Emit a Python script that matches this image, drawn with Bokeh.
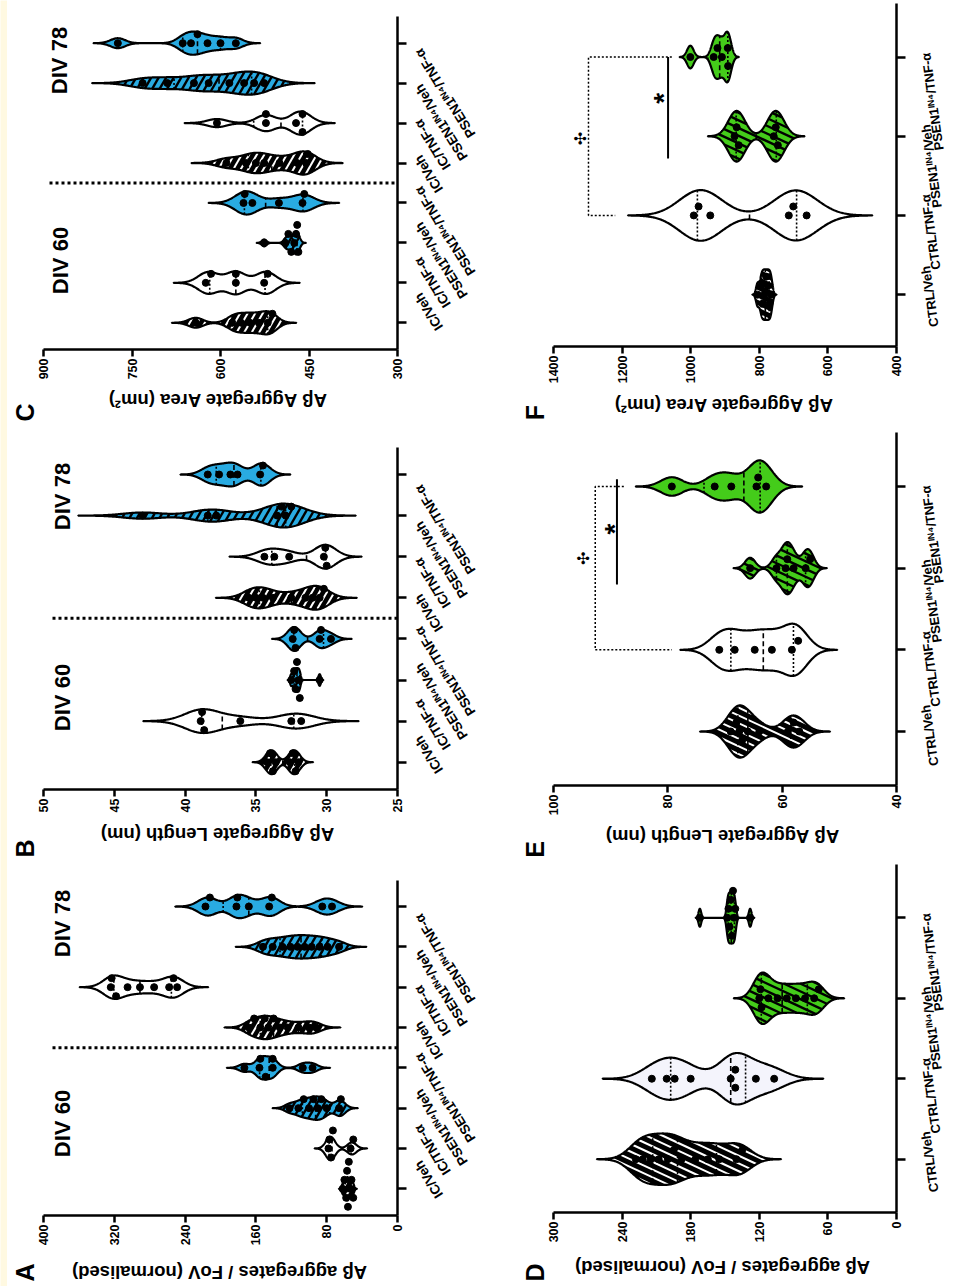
import numpy as np
from bokeh.plotting import figure
from bokeh.models import Range1d, FixedTicker, LinearAxis
from bokeh.core.properties import value
from bokeh.layouts import column, row
from bokeh.embed import file_html
from bokeh.resources import INLINE

# ---------------- data ----------------
cats_ABC = ["IC/Veh", "IC/TNF-α", "PSEN1ᴵᴺ⁴/Veh", "PSEN1ᴵᴺ⁴/TNF-α",
            "IC/Veh", "IC/TNF-α", "PSEN1ᴵᴺ⁴/Veh", "PSEN1ᴵᴺ⁴/TNF-α"]
cats_DEF = ["CTRL/Veh", "CTRL/TNF-α", "PSEN1ᴵᴺ⁴/Veh", "PSEN1ᴵᴺ⁴/TNF-α"]
div_labels = ["DIV 60", "DIV 78"]

A_ticks = [0, 80, 160, 240, 320, 400]
B_ticks = [25, 30, 35, 40, 45, 50]
C_ticks = [300, 450, 600, 750, 900]
D_ticks = [0, 60, 120, 180, 240, 300]
E_ticks = [40, 60, 80, 100]
F_ticks = [400, 600, 800, 1000, 1200, 1400]

A_title = "Aβ aggregates / FoV (normalised)"
B_title = "Aβ Aggregate Length (nm)"
C_title = "Aβ Aggregate Area (nm²)"

# Panel A: aggregates / FoV, DIV60 (groups 1-4) and DIV78 (groups 5-8)
A_groups = [
    [62, 60, 58, 57, 56, 55, 53, 52, 50],
    [78, 77, 75, 73, 53, 50],
    [122, 112, 106, 100, 95, 90, 86, 80, 66, 64],
    [173, 156, 155, 149, 141, 141, 107, 96],
    [168, 162, 155, 150, 146, 140, 133, 124, 112, 100, 92],
    [324, 323, 318, 305, 291, 275, 258, 253, 249],
    [152, 141, 130, 121, 113, 105, 97, 88, 79, 66],
    [217, 212, 182, 181, 168, 145, 142, 85, 74],
]
# Panel B: aggregate length (nm)
B_groups = [
    [34.2, 34.0, 33.8, 33.6, 32.6, 32.4, 32.2, 32.0],
    [38.9, 38.8, 38.65, 36.1, 32.5, 31.8],
    [32.5, 32.3, 32.2, 32.1, 32.0, 31.9, 30.5],
    [32.4, 32.3, 32.2, 30.5, 30.4, 29.7],
    [35.5, 35.0, 34.5, 33.8, 32.5, 31.5, 31.0, 30.5, 30.2],
    [34.4, 33.7, 32.65, 30.2, 30.1, 30.0],
    [43.0, 38.4, 37.8, 33.5, 33.2, 32.9, 32.5],
    [38.4, 37.6, 36.8, 36.3, 34.7, 34.5],
]
# Panel C: aggregate area (nm^2)
C_groups = [
    [642, 580, 565, 550, 535, 520, 512],
    [625, 616, 574, 574, 526, 520],
    [526, 490, 485, 480, 475, 472, 470, 468],
    [561, 559, 546, 501, 461, 458],
    [590, 557, 540, 526, 500, 470, 455, 452],
    [606, 523, 523, 472, 461, 461],
    [732, 690, 645, 620, 585, 560, 543, 526],
    [774, 664, 650, 639, 622, 600, 574],
]
D_groups = [
    [228, 222, 215, 208, 200, 195, 188, 176, 165, 155, 140, 135],
    [214, 201, 194, 180, 145, 141, 141, 123, 107],
    [120, 119, 118, 112, 104, 96, 88, 80, 72, 68],
    [172, 148, 147, 146, 145, 144, 143, 142, 141, 128],
]
E_groups = [
    [69, 68, 67.5, 67, 66, 64, 59, 58, 57],
    [71, 68.3, 64.8, 61.8, 58.3, 57.2],
    [65.6, 61, 59.4, 59.1, 58, 55.9, 55.1],
    [79.3, 71.8, 68.9, 64.5, 64.2, 62.8],
]
F_groups = [
    [805, 795, 790, 785, 780, 775, 770, 765],
    [991, 977, 943, 714, 701, 662],
    [872, 866, 860, 758, 752, 746],
    [1001, 933, 922, 909, 892, 891],
]

# significance annotations (value, category)
E_sig_solid = ([88.9, 88.9], [4.09, 2.8])
E_sig_dotted = ([87.7, 92.7, 92.7, 79.3], [4.0, 4.0, 2.0, 2.0])
E_star = (90.4, 3.48)
E_club = (95.6, 3.12)
F_sig_solid = ([1066, 1066], [4.0, 2.72])
F_sig_dotted = ([1055, 1298, 1298, 1220], [4.0, 4.0, 2.0, 2.0])
F_star = (1098, 3.48)
F_club = (1337, 2.97)

# ---------------- style ----------------
FONT = "Liberation Sans"
BLUE = "#29abe2"
GREEN = "#44cc1a"
STRIP = "#fff9e1"
STY = {
    "kh": dict(fill="black", hatch="white", hw=2.0),
    "w": dict(fill="white"),
    "l": dict(fill="#f4f4fc"),
    "bh": dict(fill=BLUE, hatch="black", hw=2.4),
    "b": dict(fill=BLUE),
    "gh": dict(fill=GREEN, hatch="black", hw=2.4),
    "g": dict(fill=GREEN),
}
# approximate advance widths (em) of bold sans glyphs, for centring rotated labels
EM = {"I": .278, "C": .722, "/": .278, "V": .667, "e": .556, "h": .611, "T": .611,
      "N": .722, "F": .611, "-": .333, "α": .62, "P": .667, "S": .667, "E": .667,
      "1": .556, "R": .722, "L": .611, "ᴵ": .38, "ᴺ": .50, "⁴": .38}


def text_len(s, size):
    return sum(EM.get(ch, .6) for ch in s) * size


def kde(vals, bw_scale=0.6, ext=3.3, n=300):
    v = np.asarray(vals, float)
    sd = v.std(ddof=1)
    q75, q25 = np.percentile(v, [75, 25])
    iqr = (q75 - q25) / 1.34
    s = min(sd, iqr) if iqr > 0 else sd
    bw = bw_scale * 0.9 * s * len(v) ** (-0.2)
    g = np.linspace(v.min() - ext * bw, v.max() + ext * bw, n)
    d = np.exp(-0.5 * ((g[:, None] - v[None, :]) / bw) ** 2).sum(1)
    return g, d / d.max()


def swarm(vals, sx, sy, step=9.0, dot=7.0):
    v = np.asarray(vals, float)
    order = np.argsort(-v)
    placed = []
    offs = np.zeros(len(v))
    cands = [0] + [s * j for j in range(1, 12) for s in (1, -1)]
    for idx in order:
        xp = v[idx] * sx
        for m in cands:
            yp = m * step
            if all((xp - a) ** 2 + (yp - b) ** 2 >= (dot * 0.95) ** 2 for a, b in placed):
                break
        placed.append((xp, yp))
        offs[idx] = yp / sy
    return offs


def stripes(g, half, c, geo, angle_deg, spacing):
    """Hatch lines clipped to the violin, computed in screen pixels."""
    fl, fr, ft, fb, xl, xr, ylo, yhi = geo
    tx = lambda v: fl + (v - xl) / (xr - xl) * (fr - fl)
    ty = lambda y: ft + (yhi - y) / (yhi - ylo) * (fb - ft)
    iv = lambda X: xl + (X - fl) / (fr - fl) * (xr - xl)
    iy = lambda Y: yhi - (Y - ft) / (fb - ft) * (yhi - ylo)
    X = tx(g)
    hmax = half.max()
    Xs = [X.min(), X.max()]
    Ys = [ty(c + hmax), ty(c - hmax)]
    a = np.deg2rad(angle_deg)
    dv = np.array([np.cos(a), -np.sin(a)])
    nv = np.array([np.sin(a), np.cos(a)])
    corners = np.array([[x, y] for x in Xs for y in Ys])
    ks = corners @ nv
    ts = corners @ dv
    gx = X if X[0] < X[-1] else X[::-1]
    gh = half if X[0] < X[-1] else half[::-1]
    xs_out, ys_out = [], []
    t = np.arange(ts.min() - 2, ts.max() + 2, 0.4)
    for k in np.arange(np.floor(ks.min() / spacing) * spacing, ks.max() + spacing, spacing):
        P = k * nv[None, :] + t[:, None] * dv[None, :]
        px, py = P[:, 0], P[:, 1]
        h = np.interp(px, gx, gh, left=-1, right=-1)
        yc = iy(py)
        inside = np.abs(yc - c) <= h
        if not inside.any():
            continue
        idx = np.flatnonzero(np.diff(np.concatenate([[0], inside.astype(int), [0]])))
        for s, e in zip(idx[0::2], idx[1::2]):
            e -= 1
            if e - s < 1:
                continue
            xs_out.append([float(iv(px[s])), float(iv(px[e]))])
            ys_out.append([float(yc[s]), float(yc[e])])
    return xs_out, ys_out


def text_fig(x0, x1, y0, y1):
    # coordinates: x = page px, y = -page px (so screen-up stays data-up)
    f = figure(width=int(x1 - x0), height=int(y1 - y0), x_range=Range1d(x0, x1),
               y_range=Range1d(-y1, -y0), output_backend="svg", toolbar_location=None,
               x_axis_location=None, y_axis_location=None,
               min_border_left=0, min_border_right=0, min_border_top=0, min_border_bottom=0)
    f.outline_line_color = None
    f.grid.visible = False
    f.background_fill_color = "white"
    f.border_fill_color = "white"
    return f


def txt(f, xs, ys, texts, angle, size, align="center", base="middle", font=FONT,
        style="bold", **kw):
    f.text(x=list(xs), y=list(ys), text=list(texts), angle=angle, text_align=align,
           text_baseline=base, text_font=value(font), text_font_style=style,
           text_font_size=value(size), text_color="black", **kw)


def build(cfg):
    cx0, cx1 = cfg["col"]
    fl, fr, pr = cfg["fx"]
    oy, ft, fb, pb, ob = cfg["fy"]
    xl, xr = cfg["xr"]
    ylo, yhi = cfg["yr"]
    geo = (fl, fr, ft, fb, xl, xr, ylo, yhi)
    px2x = lambda px: xl + (px - fl) / (fr - fl) * (xr - xl)
    px2y = lambda py: yhi - (py - ft) / (fb - ft) * (yhi - ylo)
    y2px = lambda y: ft + (yhi - y) / (yhi - ylo) * (fb - ft)
    sx = (fr - fl) / abs(xr - xl)
    sy = (fb - ft) / (yhi - ylo)

    p = figure(width=pr - cx0, height=pb - oy, x_range=Range1d(xl, xr),
               y_range=Range1d(ylo, yhi), output_backend="svg", toolbar_location=None,
               x_axis_location=None, y_axis_location=None,
               min_border_left=fl - cx0, min_border_right=pr - fr,
               min_border_top=ft - oy, min_border_bottom=pb - fb)
    p.outline_line_color = None
    p.background_fill_color = "white"
    p.border_fill_color = "white"
    p.grid.visible = False

    xa = LinearAxis(ticker=FixedTicker(ticks=cfg["ticks"]))
    ya = LinearAxis(ticker=FixedTicker(ticks=list(range(1, len(cfg["groups"]) + 1))))
    for ax in (xa, ya):
        ax.axis_line_width = 2.5
        ax.major_tick_line_width = 2.5
        ax.major_tick_in = 0
        ax.minor_tick_line_color = None
        ax.major_label_text_font = FONT
        ax.major_label_text_font_style = "bold"
        ax.major_label_text_color = "black"
    xa.major_tick_out = 7
    xa.major_label_orientation = np.pi / 2
    xa.major_label_standoff = 2
    xa.major_label_text_font_size = "12.5px"
    ya.major_tick_out = 9
    ya.major_label_overrides = {i + 1: "" for i in range(len(cfg["groups"]))}
    p.add_layout(xa, "below")
    p.add_layout(ya, "right")

    hw = cfg["hw"]
    for i, (vals, st) in enumerate(zip(cfg["groups"], cfg["styles"])):
        c = i + 1
        sty = STY[st]
        g, d = kde(vals)
        half = d * hw
        xs = np.concatenate([g, g[::-1]])
        ys = np.concatenate([c + half, (c - half)[::-1]])
        p.patch(xs, ys, fill_color=sty["fill"], line_color=None)
        if "hatch" in sty:
            hx, hy = stripes(g, half, c, geo, cfg["hatch_angle"], cfg["hatch_sp"])
            p.multi_line(hx, hy, line_color=sty["hatch"], line_width=sty["hw"])
        q1, med, q3 = np.percentile(vals, [25, 50, 75], method="weibull")
        for q, dash in ((q1, "2 2"), (q3, "2 2"), (med, "5 3")):
            w = float(np.interp(q, g, half))
            p.segment(x0=[q], y0=[c - w], x1=[q], y1=[c + w], line_color="black",
                      line_width=1.6, line_dash=dash)
        p.patch(xs, ys, fill_color=None, line_color="black", line_width=2.2)
        offs = swarm(vals, sx, sy)
        p.scatter(x=list(vals), y=list(c + offs), size=7, fill_color="black",
                  line_color="black")

    if cfg.get("sep_px"):
        p.line([px2x(cfg["sep_px"]), xr], [4.5, 4.5], line_color="black", line_width=3,
               line_dash="3 3")
    dv = cfg.get("div_xy", [])
    if dv:
        txt(p, [px2x(a) for a, b in dv], [px2y(b) for a, b in dv], div_labels,
            np.pi / 2, "22px")

    if cfg.get("sig"):
        solid, dotted, star, club = cfg["sig"]
        p.line(solid[0], solid[1], line_color="black", line_width=2)
        p.line(dotted[0], dotted[1], line_color="black", line_width=1.5, line_dash="2 2")
        txt(p, [star[0]], [star[1]], ["*"], np.pi / 2, "28px", x_offset=6)
        txt(p, [club[0]], [club[1]], ["✣"], np.pi / 2, "16px", font="DejaVu Sans",
            x_offset=5)

    # category labels (right of the plot), centred on computed positions
    lf = text_fig(pr, cx1, oy, pb)
    th = np.deg2rad(cfg["lab_angle"])
    size = cfg["lab_size"]
    ex, ey = cfg["lab_end"]
    cxs, cys = [], []
    for i, t in enumerate(cfg["cats"]):
        L = text_len(t, size)
        endx, endy = fr + ex, -(y2px(i + 1) + ey)
        cxs.append(endx - 0.5 * L * np.cos(th))
        cys.append(endy - 0.5 * L * np.sin(th))
    txt(lf, cxs, cys, cfg["cats"], th, "%gpx" % size)

    # axis title (upside down) and panel letter
    tf = text_fig(cx0, cx1, pb, ob)
    tx, ty = cfg["title_xy"]
    txt(tf, [tx], [-ty], [cfg["title"]], np.pi, "18.5px")
    lx, ly = cfg["letter_xy"]
    txt(tf, [lx], [-ly], [cfg["letter"]], np.pi / 2, "25px")

    return column(row(p, lf), tf)


styles_ABC = ["kh", "w", "bh", "b"] * 2
common_L = dict(col=(7, 520), fx=(43, 397, 409), cats=cats_ABC, styles=styles_ABC, hw=0.29,
                lab_angle=122, lab_end=(20, 2), lab_size=13.5, hatch_angle=60, hatch_sp=6.5)
common_R = dict(col=(520, 957), fx=(553, 896, 908), cats=cats_DEF, hw=0.32, lab_angle=98,
                lab_end=(29, 4), lab_size=13, hatch_angle=155, hatch_sp=7)

cfgC = dict(common_L, fy=(0, 16, 349, 386, 425), groups=C_groups, ticks=C_ticks,
            xr=(900, 300), yr=(0.331, 8.668), title=C_title, title_xy=(217, 400),
            letter="C", letter_xy=(24, 412), div_xy=[(60, 260), (59, 60)], sep_px=49)
cfgB = dict(common_L, fy=(425, 447, 789, 822, 862), groups=B_groups, ticks=B_ticks,
            xr=(50, 25), yr=(0.336, 8.657), title=B_title, title_xy=(217, 834),
            letter="B", letter_xy=(24, 848), div_xy=[(62, 697), (62, 496)], sep_px=52)
cfgA = dict(common_L, fy=(862, 880, 1215, 1250, 1286), groups=A_groups, ticks=A_ticks,
            xr=(400, 0), yr=(0.338, 8.645), title=A_title, title_xy=(219, 1272),
            letter="A", letter_xy=(24, 1272), div_xy=[(62, 1123), (62, 923)], sep_px=52)
cfgF = dict(common_R, fy=(0, 3, 347, 386, 425), groups=F_groups,
            styles=["kh", "w", "gh", "g"], ticks=F_ticks, xr=(1400, 400), yr=(0.345, 4.676),
            title=C_title, title_xy=(723, 405), letter="F", letter_xy=(534, 412),
            sig=(F_sig_solid, F_sig_dotted, F_star, F_club))
cfgE = dict(common_R, fy=(425, 432, 785, 822, 862), groups=E_groups,
            styles=["kh", "w", "gh", "g"], ticks=E_ticks, xr=(100, 40), yr=(0.339, 4.661),
            title=B_title, title_xy=(722, 836), letter="E", letter_xy=(534, 849),
            sig=(E_sig_solid, E_sig_dotted, E_star, E_club))
cfgD = dict(common_R, fy=(862, 864, 1212, 1250, 1286), groups=D_groups,
            styles=["kh", "l", "gh", "g"], ticks=D_ticks, xr=(300, 0), yr=(0.338, 4.662),
            title=A_title, title_xy=(722, 1267), letter="D", letter_xy=(534, 1272))

strip = figure(width=7, height=1286, output_backend="svg", toolbar_location=None,
               x_axis_location=None, y_axis_location=None, min_border_left=0,
               min_border_right=0, min_border_top=0, min_border_bottom=0,
               x_range=Range1d(0, 1), y_range=Range1d(0, 1))
strip.outline_line_color = None
strip.grid.visible = False
strip.background_fill_color = STRIP
strip.border_fill_color = STRIP

left = column(build(cfgC), build(cfgB), build(cfgA))
right = column(build(cfgF), build(cfgE), build(cfgD))
layout = row(strip, left, right)

open("out.html", "w").write(file_html(layout, INLINE))
